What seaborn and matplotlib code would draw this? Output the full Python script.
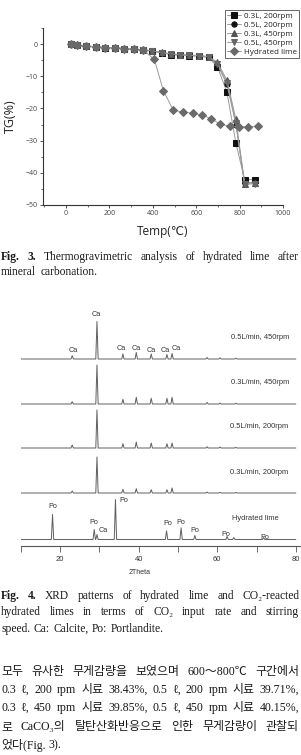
import matplotlib
matplotlib.use("Agg")
import numpy as np
import pandas as pd
import matplotlib.pyplot as plt
import seaborn as sns
from matplotlib.ticker import MultipleLocator, FixedLocator, FixedFormatter

# ---------------- data: Fig. 3 (TG) ----------------
temps_carb = [23, 49, 92, 137, 180, 226, 269, 314, 357, 395, 442, 485, 526, 569, 614, 657, 698, 742, 783, 823, 869]
tg_03L_200 = [0, -0.3, -0.6, -0.8, -1.0, -1.2, -1.4, -1.6, -1.9, -2.1, -2.7, -3.2, -3.4, -3.5, -3.7, -4.1, -7.0, -15.0, -30.8, -42.2, -42.2]
tg_05L_200 = [0, -0.3, -0.6, -0.8, -1.0, -1.1, -1.3, -1.5, -1.8, -2.0, -2.6, -3.1, -3.3, -3.5, -3.6, -4.0, -6.4, -12.5, -25.0, -43.2, -43.0]
tg_03L_450 = [0.1, -0.2, -0.5, -0.7, -0.9, -1.1, -1.3, -1.5, -1.8, -2.0, -2.5, -3.0, -3.2, -3.4, -3.5, -3.8, -5.6, -11.2, -23.4, -43.4, -43.3]
tg_05L_450 = [0, -0.3, -0.6, -0.8, -1.0, -1.1, -1.3, -1.5, -1.8, -2.0, -2.6, -3.0, -3.3, -3.4, -3.6, -3.9, -6.0, -11.9, -24.6, -43.6, -43.5]
temps_hyd = [23, 49, 92, 137, 180, 226, 269, 314, 357, 407, 449, 495, 538, 583, 626, 669, 711, 754, 798, 841, 885]
tg_hyd = [0, -0.3, -0.6, -0.8, -1.0, -1.1, -1.3, -1.5, -1.8, -4.7, -14.5, -20.6, -21.1, -21.5, -22.0, -23.2, -24.9, -25.5, -25.7, -25.7, -25.6]
tg_labels = ["0.3L, 200rpm", "0.5L, 200rpm", "0.3L, 450rpm", "0.5L, 450rpm", "Hydrated lime"]

# ---------------- data: Fig. 4 (XRD) ----------------
calcite_pos = [23.1, 29.4, 36.0, 39.4, 43.2, 47.2, 48.5, 57.4, 60.7, 64.7]
h_05_450 = [3.3, 37.5, 5.0, 6.5, 5.0, 4.5, 5.5, 1.5, 1.2, 0.8]
h_03_450 = [2.3, 39.0, 4.7, 6.7, 5.7, 5.7, 6.7, 1.5, 1.0, 0.8]
h_05_200 = [3.0, 38.0, 4.3, 6.0, 5.0, 4.3, 5.0, 1.2, 1.0, 0.6]
h_03_200 = [2.0, 36.0, 3.7, 4.3, 3.3, 3.3, 5.0, 1.0, 0.7, 0.5]
hyd_pos = [18.1, 28.7, 29.4, 34.1, 47.1, 50.8, 54.3, 62.5, 64.2, 71.8]
h_hyd = [25.0, 10.0, 5.0, 40.0, 8.6, 11.6, 4.0, 3.0, 2.0, 2.0]
xrd_names = ["0.5L/min, 450rpm", "0.3L/min, 450rpm", "0.5L/min, 200rpm", "0.3L/min, 200rpm", "Hydrated lime"]
xrd_base = [187, 142, 98, 53, 6.5]          # vertical offset of each pattern (a.u.)
ca_label_x = [23.3, 29.2, 35.7, 39.3, 43.1, 46.7, 49.6]
po_label_x = [18.2, 28.6, 36.3, 47.3, 50.8, 54.3, 62.3, 72.1]
po_label_txt = ["Po", "Po", "Po", "Po", "Po", "Po", "Po", "Po"]
xtick_vals = [10, 20, 30, 40, 50, 60, 70, 80]
xtick_txt = ["", "20", "", "40", "", "60", "", "80"]

W, H = 301, 755
sns.set_theme(style="white")
plt.rcParams["font.family"] = ["Open Sans", "DejaVu Sans"]
plt.rcParams["axes.edgecolor"] = "#333333"
SERIF = ["Liberation Serif", "Noto Sans CJK KR", "DejaVu Sans"]

fig = plt.figure(figsize=(W / 100, H / 100), dpi=100)

# ---------------- Fig. 3 axes ----------------
ax1 = fig.add_axes([43 / W, 1 - 204.7 / H, 240 / W, 176.4 / H])
series = [(temps_carb, tg_03L_200, "s", "#111111"),
          (temps_carb, tg_05L_200, "o", "#111111"),
          (temps_carb, tg_03L_450, "^", "#555555"),
          (temps_carb, tg_05L_450, "v", "#666666"),
          (temps_hyd, tg_hyd, "D", "#6a6a6a")]
for (tx, ty, mk, mc), lab in zip(series, tg_labels):
    d = pd.DataFrame({"Temp": tx, "TG": ty})
    sns.lineplot(data=d, x="Temp", y="TG", ax=ax1, sort=False, estimator=None,
                 color="#9a9a9a", lw=0.7, marker=mk, markersize=3.8,
                 markerfacecolor=mc, markeredgecolor=mc, label=lab)
if ax1.get_legend() is not None:
    ax1.get_legend().remove()
ax1.set_xlim(-106, 1000)
ax1.set_ylim(-50, 5)
ax1.xaxis.set_major_locator(MultipleLocator(200))
ax1.xaxis.set_minor_locator(MultipleLocator(100))
ax1.yaxis.set_major_locator(MultipleLocator(10))
ax1.yaxis.set_minor_locator(MultipleLocator(5))
for s in ["top", "right"]:
    ax1.spines[s].set_visible(False)
for s in ["left", "bottom"]:
    ax1.spines[s].set_linewidth(0.8)
ax1.tick_params(which="major", direction="out", length=2.5, width=0.6, pad=1.5,
                labelsize=5, labelcolor="#444444", color="#333333", bottom=True, left=True)
ax1.tick_params(which="minor", direction="out", length=1.5, width=0.5, color="#333333",
                bottom=True, left=True)
ax1.set_xlabel("Temp(℃)", fontsize=8.5, color="#222222")
ax1.set_ylabel("TG(%)", fontsize=9, color="#222222")
ax1.xaxis.set_label_coords(0.5, -0.15)
ax1.xaxis.label.set_va("center")
ax1.yaxis.set_label_coords(-0.1375, 0.503)
ax1.yaxis.label.set_va("center")
ax1.patch.set_alpha(0)

h, l = ax1.get_legend_handles_labels()
leg = fig.legend(h, l, loc="upper left", bbox_to_anchor=(225 / W, 1 - 10 / H), frameon=True,
                 fontsize=5.8, fancybox=False, borderpad=0.3, labelspacing=0.16,
                 handlelength=1.7, handletextpad=0.3, borderaxespad=0)
leg.get_frame().set_edgecolor("#222222")
leg.get_frame().set_linewidth(0.6)
for t in leg.get_texts():
    t.set_color("#222222")

# ---------------- Fig. 4 axes ----------------
ax2 = fig.add_axes([20.7 / W, 1 - 546 / H, 280.3 / W, 246 / H])
groups = [(calcite_pos, h_05_450), (calcite_pos, h_03_450), (calcite_pos, h_05_200),
          (calcite_pos, h_03_200), (hyd_pos, h_hyd)]
hw = 0.3
for (pos, hts), base, name in zip(groups, xrd_base, xrd_names):
    xs, ys = [10.0], [base]
    for p, hh in zip(pos, hts):
        xs += [p - hw, p, p + hw]
        ys += [base, base + hh, base]
    xs.append(80.0)
    ys.append(base)
    d = pd.DataFrame({"two_theta": xs, "intensity": ys})
    sns.lineplot(data=d, x="two_theta", y="intensity", ax=ax2, sort=False, estimator=None,
                 color="#606060", lw=0.7)
ax2.set_xlim(10, 81.3)
ax2.set_ylim(0, 246)
for s in ["top", "right", "left"]:
    ax2.spines[s].set_visible(False)
ax2.spines["bottom"].set_linewidth(0.8)
ax2.spines["bottom"].set_color("#555555")
ax2.set_yticks([])
ax2.xaxis.set_major_locator(FixedLocator(xtick_vals))
ax2.xaxis.set_major_formatter(FixedFormatter(xtick_txt))
ax2.tick_params(axis="x", direction="out", length=4.3, width=0.6, pad=3, labelsize=5.5,
                labelcolor="#333333", color="#555555", bottom=True)
for lab in ax2.get_xticklabels():
    lab.set_family(["Liberation Sans", "DejaVu Sans"])
ax2.set_xlabel("2Theta", fontsize=5, family=["Liberation Sans"], color="#333333")
ax2.set_ylabel("")
ax2.xaxis.set_label_coords(0.4256, -0.1085)
ax2.xaxis.label.set_va("center")
ax2.patch.set_alpha(0)

lab_kw = dict(fontsize=5.2, family=["Liberation Sans", "DejaVu Sans"], color="#333333",
              ha="center", va="center")
top = xrd_base[0]
ca_y = [top + 9, top + 44, top + 10, top + 10, top + 9, top + 9, top + 10]
for x, y in zip(ca_label_x, ca_y):
    ax2.text(x, y, "Ca", **lab_kw)
hb = xrd_base[4]
po_y = [hb + 33, hb + 17, hb + 39, hb + 16, hb + 17, hb + 9, hb + 5, hb + 2]
for x, y, t in zip(po_label_x, po_y, po_label_txt):
    ax2.text(x, y, t, **lab_kw)
ax2.text(31.0, hb + 9.5, "Ca", **lab_kw)

name_y = [208.3, 163.7, 119.3, 73.7, 27.7]
name_x = [78.2, 78.2, 78.0, 78.0, 75.6]
for x, y, t in zip(name_x, name_y, xrd_names):
    ax2.text(x, y, t, fontsize=5.4, family=["Liberation Sans", "DejaVu Sans"],
             color="#333333", ha="right", va="center")

# ---------------- caption & body text (justified lines) ----------------
renderer = fig.canvas.get_renderer()


def put_line(words, y_px, x0, x1=None, size=8.3, bold_n=0, gap=None, color="#1a1a1a"):
    texts = []
    for i, w in enumerate(words):
        t = fig.text(0, 0, w, fontsize=size, family=SERIF,
                     fontweight="bold" if i < bold_n else "normal",
                     va="center", ha="left", color=color)
        texts.append(t)
    widths = [t.get_window_extent(renderer).width for t in texts]
    if x1 is not None and len(words) > 1:
        g = (x1 - x0 - sum(widths)) / (len(words) - 1)
    else:
        g = gap if gap is not None else size * 0.35
    x = x0
    for t, w in zip(texts, widths):
        t.set_position((x / W, 1 - y_px / H))
        x += w + g


put_line(["Fig.", "3.", "Thermogravimetric", "analysis", "of", "hydrated", "lime", "after"],
         257, 1, 299, bold_n=2)
put_line(["mineral", "carbonation."], 272, 1, gap=5)

put_line(["Fig.", "4.", "XRD", "patterns", "of", "hydrated", "lime", "and", "CO₂-reacted"],
         596, 1, 299, bold_n=2)
put_line(["hydrated", "limes", "in", "terms", "of", "CO₂", "input", "rate", "and", "stirring"],
         612, 1, 299)
put_line(["speed.", "Ca:", "Calcite,", "Po:", "Portlandite."], 629, 1, gap=3.5)

ks = 8.6
put_line(["모두", "유사한", "무게감량을", "보였으며", "600～800℃", "구간에서"], 672, 1, 299, size=ks)
put_line(["0.3", "ℓ,", "200", "rpm", "시료", "38.43%,", "0.5", "ℓ,", "200", "rpm", "시료", "39.71%,"],
         690, 1, 299, size=ks)
put_line(["0.3", "ℓ,", "450", "rpm", "시료", "39.85%,", "0.5", "ℓ,", "450", "rpm", "시료", "40.15%,"],
         708, 1, 299, size=ks)
put_line(["로", "CaCO₃의", "탈탄산화반응으로", "인한", "무게감량이", "관찰되"], 727, 1, 299, size=ks)
put_line(["었다(Fig.", "3)."], 745, 1, gap=3, size=ks)

fig.savefig("out.png", dpi=100)
